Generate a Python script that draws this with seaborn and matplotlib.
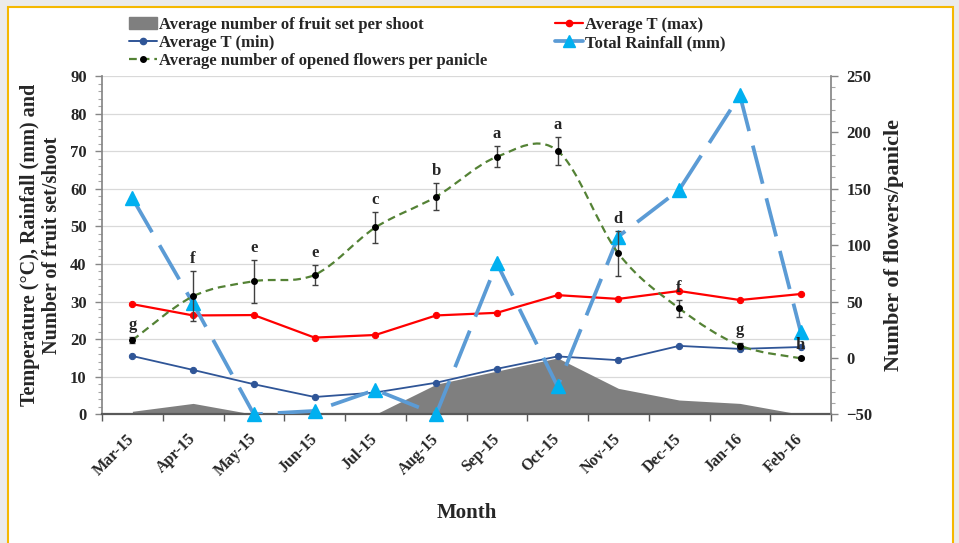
import numpy as np
import pandas as pd
import seaborn as sns
import matplotlib
matplotlib.use('Agg')
import matplotlib.pyplot as plt
from matplotlib.path import Path
from matplotlib.patches import PathPatch, Rectangle, Patch
from matplotlib.lines import Line2D
from matplotlib.ticker import MultipleLocator, FixedLocator

months = ['Mar-15', 'Apr-15', 'May-15', 'Jun-15', 'Jul-15', 'Aug-15',
          'Sep-15', 'Oct-15', 'Nov-15', 'Dec-15', 'Jan-16', 'Feb-16']
t_max = [29.3, 26.3, 26.4, 20.4, 21.1, 26.3, 27.0, 31.7, 30.7, 32.8, 30.4, 32.0]
t_min = [15.5, 11.8, 8.0, 4.6, 5.8, 8.4, 12.1, 15.4, 14.4, 18.2, 17.4, 17.9]
rainfall = [57.5, 29.5, 0.0, 0.9, 6.5, 0.0, 40.2, 7.4, 47.3, 59.7, 84.9, 22.0]
fruit_set = [0.8, 2.9, 0.0, 0.0, 0.0, 8.0, 11.5, 15.0, 6.9, 3.8, 2.9, 0.0]
flowers = [19.7, 31.4, 35.4, 37.1, 49.7, 57.9, 68.5, 70.1, 42.8, 28.2, 18.3, 14.9]
flowers_err = [0.8, 6.6, 5.7, 2.7, 4.1, 3.6, 2.8, 3.7, 5.9, 2.2, 0.8, 0.3]
letters = ['g', 'f', 'e', 'e', 'c', 'b', 'a', 'a', 'd', 'f', 'g', 'h']

df = pd.DataFrame({'month': months, 'tmax': t_max, 'tmin': t_min,
                   'rain': rainfall, 'fruit': fruit_set,
                   'flowers': flowers, 'err': flowers_err})
df['pos'] = np.arange(len(df))

sns.set_theme(style='white')
plt.rcParams['font.family'] = ['Liberation Serif', 'DejaVu Serif']
plt.rcParams['font.weight'] = 'bold'

C_RED = '#FF0000'
C_BLUE = '#2F5597'
C_RAIN = '#5B9BD5'
C_TRI = '#00B0F0'
C_GREEN = '#548235'
C_GREY = '#7F7F7F'
GREEN_DASH = (0, (3.5, 2.2))

fig = plt.figure(figsize=(9.59, 5.43), dpi=100)
fig.patch.set_facecolor('#EBEBEB')
fig.patches.append(Rectangle((8 / 959, -0.02), 945 / 959, 1.0 - 7 / 543 + 0.02,
                             transform=fig.transFigure, facecolor='white',
                             edgecolor='#F5B800', lw=1.5, zorder=-10))

ax = fig.add_axes([102 / 959, 1 - 414.3 / 543, 729 / 959, 338.3 / 543])
ax.set_facecolor('none')

# area: fruit set
ax.fill_between(df['pos'], 0, df['fruit'], color=C_GREY, lw=0, zorder=1)

sns.lineplot(data=df, x='pos', y='tmax', ax=ax, color=C_RED, lw=1.6,
             marker='o', markersize=4.5, mec=C_RED, mfc=C_RED, zorder=3, legend=False)
sns.lineplot(data=df, x='pos', y='tmin', ax=ax, color=C_BLUE, lw=1.3,
             marker='o', markersize=4.5, mec=C_BLUE, mfc=C_BLUE, zorder=3, legend=False)
sns.lineplot(data=df, x='pos', y='rain', ax=ax, color=C_RAIN, lw=2.7, zorder=4,
             legend=False)
ax.lines[-1].set_dashes([10.5, 4])
ax.plot(df['pos'], df['rain'], ls='none', marker='^', markersize=10,
        color=C_TRI, mec=C_TRI, zorder=5, clip_on=False)

# smoothed flowers curve (Bezier through the points)
x = df['pos'].to_numpy(float)
y = df['flowers'].to_numpy(float)
pts = np.column_stack([x, y])
verts = [pts[0]]
codes = [Path.MOVETO]
n = len(pts)
for i in range(n - 1):
    p_prev = pts[i - 1] if i > 0 else pts[i]
    p_next2 = pts[i + 2] if i + 2 < n else pts[i + 1]
    c1 = pts[i] + (pts[i + 1] - p_prev) / 6
    c2 = pts[i + 1] - (p_next2 - pts[i]) / 6
    verts += [c1, c2, pts[i + 1]]
    codes += [Path.CURVE4] * 3
ax.add_patch(PathPatch(Path(verts, codes), facecolor='none', edgecolor=C_GREEN,
                       lw=1.6, ls=GREEN_DASH, zorder=6))
ax.errorbar(df['pos'], df['flowers'], yerr=df['err'], fmt='o', color='black',
            markersize=4, ecolor='#404040', elinewidth=1.0, capsize=2.5,
            capthick=1.0, zorder=7)
for i, (v, e, t) in enumerate(zip(flowers, flowers_err, letters)):
    ax.annotate(t, (i, v + e), xytext=(0, 3), textcoords='offset points',
                ha='center', va='bottom', fontsize=12, fontweight='bold', zorder=8)

# axes formatting
ax.set_xlim(-0.5, 11.5)
ax.set_ylim(0, 90)
ax.yaxis.set_major_locator(MultipleLocator(10))
ax.yaxis.set_minor_locator(MultipleLocator(2))
ax.yaxis.grid(True, color='#D9D9D9', lw=0.9)
ax.set_axisbelow(True)
ax.xaxis.set_major_locator(FixedLocator(df['pos']))
ax.xaxis.set_minor_locator(FixedLocator(np.arange(-0.5, 12, 1)))
ax.set_xticklabels(months, rotation=45, ha='right', va='center',
                   rotation_mode='anchor', fontsize=11.5, fontweight='bold')
ax.tick_params(axis='x', which='major', length=0, pad=16)
ax.tick_params(axis='x', which='minor', length=5, width=1, color='#595959',
               direction='out', bottom=True)
ax.tick_params(axis='y', which='major', length=5, width=1, color='#868686',
               direction='out', left=True, labelsize=12, pad=6)
ax.tick_params(axis='y', which='minor', length=3, width=0.8, color='#A6A6A6',
               direction='out', left=True)
for lab in ax.get_yticklabels():
    lab.set_fontweight('bold')
for s in ['top', 'right']:
    ax.spines[s].set_visible(False)
ax.spines['left'].set_color('#868686')
ax.spines['bottom'].set_color('#595959')
ax.spines['bottom'].set_linewidth(1.6)
ax.set_xlabel('Month', fontsize=15, fontweight='bold', labelpad=17)
ax.set_ylabel('Temperature (°C), Rainfall (mm) and\nNumber of fruit set/shoot',
              fontsize=14.5, fontweight='bold', labelpad=6, linespacing=1.1)

ax2 = ax.twinx()
ax2.set_ylim(-50, 250)
ax2.yaxis.set_major_locator(MultipleLocator(50))
ax2.yaxis.set_minor_locator(MultipleLocator(10))
ax2.tick_params(axis='y', which='major', length=5, width=1, color='#868686',
                direction='out', right=True, labelsize=12, pad=6)
ax2.tick_params(axis='y', which='minor', length=3, width=0.8, color='#A6A6A6',
                direction='out', right=True)
for lab in ax2.get_yticklabels():
    lab.set_fontweight('bold')
for s in ['top', 'left', 'bottom']:
    ax2.spines[s].set_visible(False)
ax2.spines['right'].set_color('#868686')
ax2.grid(False)
ax2.set_ylabel('Number of flowers/panicle', fontsize=16, fontweight='bold',
               labelpad=8)

leg_kw = dict(loc='upper left', frameon=False, fontsize=12, handlelength=1.7,
              handletextpad=0.1, labelspacing=0.12, borderaxespad=0, borderpad=0)
h_left = [
    Patch(facecolor=C_GREY, edgecolor=C_GREY),
    Line2D([], [], color=C_BLUE, lw=1.4, marker='o', markersize=4.5),
    Line2D([], [], color=C_GREEN, lw=1.6, ls=GREEN_DASH, marker='o',
           markersize=4, mfc='black', mec='black'),
]
l_left = ['Average number of fruit set per shoot', 'Average T (min)',
          'Average number of opened flowers per panicle']
h_right = [
    Line2D([], [], color=C_RED, lw=1.6, marker='o', markersize=4.5),
    Line2D([], [], color=C_RAIN, lw=2.7, marker='^', markersize=8,
           mfc=C_TRI, mec=C_TRI),
]
l_right = ['Average T (max)', 'Total Rainfall (mm)']
fig.legend(h_left, l_left, bbox_to_anchor=(129 / 959, 1 - 17 / 543), **leg_kw)
fig.legend(h_right, l_right, bbox_to_anchor=(555 / 959, 1 - 17 / 543), **leg_kw)

fig.savefig('out.png', dpi=100, facecolor=fig.get_facecolor())
